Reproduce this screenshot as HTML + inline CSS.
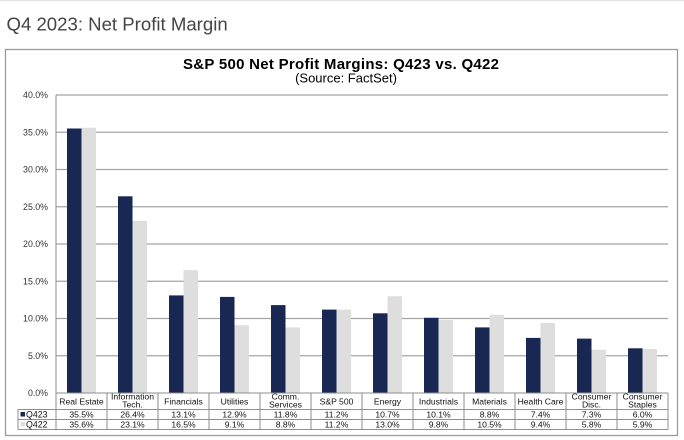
<!DOCTYPE html>
<html><head><meta charset="utf-8"><style>
html,body{margin:0;padding:0;background:#fff;}
svg{display:block;font-family:"Liberation Sans",Arial,sans-serif;}
</style></head><body>
<svg width="684" height="440" viewBox="0 0 684 440" xmlns="http://www.w3.org/2000/svg">
<rect x="0" y="0" width="684" height="440" fill="#fff"/>
<line x1="0" y1="0.5" x2="684" y2="0.5" stroke="#e2e2e2" stroke-width="1.5"/>
<text x="6.5" y="30.7" font-size="18.6" fill="#444">Q4 2023: Net Profit Margin</text>
<rect x="5.5" y="49.5" width="672" height="386" fill="#fff" stroke="#9c9c9c" stroke-width="1.3"/>
<text x="341" y="69" font-size="15" font-weight="bold" fill="#000" text-anchor="middle" textLength="316" lengthAdjust="spacing">S&amp;P 500 Net Profit Margins: Q423 vs. Q422</text>
<text x="346" y="82.5" font-size="13" fill="#000" text-anchor="middle">(Source: FactSet)</text>

<g stroke="#a4a4a4" stroke-width="1.3">
<line x1="56" y1="95" x2="668" y2="95"/>
<line x1="56" y1="132.25" x2="668" y2="132.25"/>
<line x1="56" y1="169.5" x2="668" y2="169.5"/>
<line x1="56" y1="206.75" x2="668" y2="206.75"/>
<line x1="56" y1="244" x2="668" y2="244"/>
<line x1="56" y1="281.25" x2="668" y2="281.25"/>
<line x1="56" y1="318.5" x2="668" y2="318.5"/>
<line x1="56" y1="355.75" x2="668" y2="355.75"/>
</g>
<g font-size="8.8" fill="#333" text-anchor="end">
<text x="48" y="98">40.0%</text>
<text x="48" y="135.3">35.0%</text>
<text x="48" y="172.5">30.0%</text>
<text x="48" y="209.8">25.0%</text>
<text x="48" y="247">20.0%</text>
<text x="48" y="284.3">15.0%</text>
<text x="48" y="321.5">10.0%</text>
<text x="48" y="358.8">5.0%</text>
<text x="48" y="396">0.0%</text>
</g>

<g fill="#182853">
<rect x="67" y="128.5" width="14.5" height="264.5"/>
<rect x="118" y="196.3" width="14.5" height="196.7"/>
<rect x="169" y="295.4" width="14.5" height="97.6"/>
<rect x="220" y="296.9" width="14.5" height="96.1"/>
<rect x="271" y="305.1" width="14.5" height="87.9"/>
<rect x="322" y="309.6" width="14.5" height="83.4"/>
<rect x="373" y="313.3" width="14.5" height="79.7"/>
<rect x="424" y="317.8" width="14.5" height="75.2"/>
<rect x="475" y="327.4" width="14.5" height="65.6"/>
<rect x="526" y="337.9" width="14.5" height="55.1"/>
<rect x="577" y="338.6" width="14.5" height="54.4"/>
<rect x="628" y="348.3" width="14.5" height="44.7"/>
</g>
<g fill="#dedede">
<rect x="81.5" y="127.8" width="14.5" height="265.2"/>
<rect x="132.5" y="220.9" width="14.5" height="172.1"/>
<rect x="183.5" y="270.1" width="14.5" height="122.9"/>
<rect x="234.5" y="325.2" width="14.5" height="67.8"/>
<rect x="285.5" y="327.4" width="14.5" height="65.6"/>
<rect x="336.5" y="309.6" width="14.5" height="83.4"/>
<rect x="387.5" y="296.2" width="14.5" height="96.8"/>
<rect x="438.5" y="320" width="14.5" height="73"/>
<rect x="489.5" y="314.8" width="14.5" height="78.2"/>
<rect x="540.5" y="323" width="14.5" height="70"/>
<rect x="591.5" y="349.8" width="14.5" height="43.2"/>
<rect x="642.5" y="349" width="14.5" height="44"/>
</g>

<g stroke="#8e8e8e" stroke-width="1">
<line x1="56" y1="95" x2="56" y2="429.5"/>
<line x1="56" y1="393" x2="668" y2="393"/>
<line x1="18" y1="409.5" x2="668" y2="409.5"/>
<line x1="18" y1="419.5" x2="668" y2="419.5"/>
<line x1="18" y1="429.5" x2="668" y2="429.5"/>
<line x1="18" y1="409.5" x2="18" y2="429.5"/>
<line x1="107" y1="393" x2="107" y2="429.5"/>
<line x1="158" y1="393" x2="158" y2="429.5"/>
<line x1="209" y1="393" x2="209" y2="429.5"/>
<line x1="260" y1="393" x2="260" y2="429.5"/>
<line x1="311" y1="393" x2="311" y2="429.5"/>
<line x1="362" y1="393" x2="362" y2="429.5"/>
<line x1="413" y1="393" x2="413" y2="429.5"/>
<line x1="464" y1="393" x2="464" y2="429.5"/>
<line x1="515" y1="393" x2="515" y2="429.5"/>
<line x1="566" y1="393" x2="566" y2="429.5"/>
<line x1="617" y1="393" x2="617" y2="429.5"/>
<line x1="668" y1="393" x2="668" y2="429.5"/>
</g>

<g font-size="8.6" fill="#111" text-anchor="middle">
<text x="81.5" y="404.5">Real Estate</text>
<text x="132.5" y="399.5">Information</text><text x="132.5" y="407.5">Tech.</text>
<text x="183.5" y="404.5">Financials</text>
<text x="234.5" y="404.5">Utilities</text>
<text x="285.5" y="399.5">Comm.</text><text x="285.5" y="407.5">Services</text>
<text x="336.5" y="404.5">S&amp;P 500</text>
<text x="387.5" y="404.5">Energy</text>
<text x="438.5" y="404.5">Industrials</text>
<text x="489.5" y="404.5">Materials</text>
<text x="540.5" y="404.5">Health Care</text>
<text x="591.5" y="399.5">Consumer</text><text x="591.5" y="407.5">Disc.</text>
<text x="642.5" y="399.5">Consumer</text><text x="642.5" y="407.5">Staples</text>

<text x="81.5" y="417.7">35.5%</text>
<text x="132.5" y="417.7">26.4%</text>
<text x="183.5" y="417.7">13.1%</text>
<text x="234.5" y="417.7">12.9%</text>
<text x="285.5" y="417.7">11.8%</text>
<text x="336.5" y="417.7">11.2%</text>
<text x="387.5" y="417.7">10.7%</text>
<text x="438.5" y="417.7">10.1%</text>
<text x="489.5" y="417.7">8.8%</text>
<text x="540.5" y="417.7">7.4%</text>
<text x="591.5" y="417.7">7.3%</text>
<text x="642.5" y="417.7">6.0%</text>

<text x="81.5" y="427.7">35.6%</text>
<text x="132.5" y="427.7">23.1%</text>
<text x="183.5" y="427.7">16.5%</text>
<text x="234.5" y="427.7">9.1%</text>
<text x="285.5" y="427.7">8.8%</text>
<text x="336.5" y="427.7">11.2%</text>
<text x="387.5" y="427.7">13.0%</text>
<text x="438.5" y="427.7">9.8%</text>
<text x="489.5" y="427.7">10.5%</text>
<text x="540.5" y="427.7">9.4%</text>
<text x="591.5" y="427.7">5.8%</text>
<text x="642.5" y="427.7">5.9%</text>
</g>
<rect x="20.5" y="412" width="4.5" height="4.5" fill="#182853"/>
<rect x="20.5" y="422" width="4.5" height="4.5" fill="#dedede"/>
<g font-size="8.8" fill="#111">
<text x="26" y="417.7">Q423</text>
<text x="26" y="427.7">Q422</text>
</g>
</svg>
</body></html>
